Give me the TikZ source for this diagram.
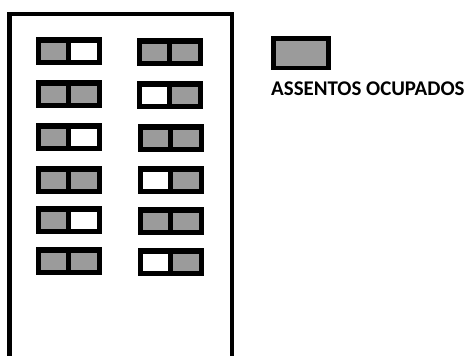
\documentclass[tikz,border=0pt]{standalone}
\usepackage{fontspec}
\setmainfont{Carlito}
\definecolor{seat}{RGB}{155,155,155}
\tikzset{
  frame/.style={line width=4.6pt},
  pairbox/.style={fill=black},
}
\newcommand\seatpair[4]{%
  \fill[pairbox] (#1,#2) rectangle ++(66,28);
  \fill[#3] (#1+5,#2+6) rectangle ++(25,17);
  \fill[#4] (#1+35,#2+6) rectangle ++(26,17);
}
\begin{document}
\begin{tikzpicture}[x=1pt,y=-1pt]
\useasboundingbox (0,0) rectangle (469,356);
\draw[frame] (9.5,356) -- (9.5,14) -- (232,14) -- (232,356);
% left column
\seatpair{36}{37}{seat}{white}
\seatpair{36}{80}{seat}{seat}
\seatpair{36}{123}{seat}{white}
\seatpair{36}{166}{seat}{seat}
\seatpair{36}{206}{seat}{white}
\seatpair{36}{247}{seat}{seat}
% right column
\seatpair{137}{38}{seat}{seat}
\seatpair{137}{81}{white}{seat}
\seatpair{138}{124}{seat}{seat}
\seatpair{138}{166}{white}{seat}
\seatpair{138}{207}{seat}{seat}
\seatpair{138}{248}{white}{seat}
% legend
\fill[pairbox] (271,36) rectangle (331,70);
\fill[seat] (276,40.5) rectangle (326,65.5);
\node[anchor=base west, inner sep=0pt, font=\bfseries\fontsize{20.9}{24}\selectfont] (lbl) at (271,95.5) {ASSENTOS OCUPADOS};
\end{tikzpicture}
\end{document}
